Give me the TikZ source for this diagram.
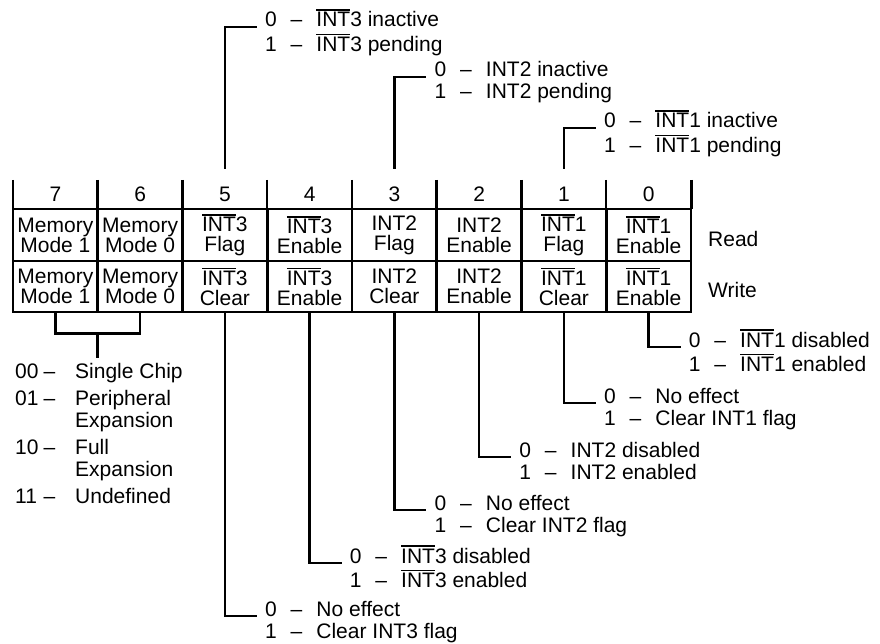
\documentclass[tikz,border=0pt]{standalone}
\usepackage{fontspec}
\setmainfont{Liberation Sans}
\usetikzlibrary{calc}
\newcommand{\barint}{\setbox0\hbox{INT}\rlap{\rule[\dimexpr\ht0+1.6pt\relax]{\wd0}{1.7pt}}INT}
\newcommand{\twoway}[2]{\begin{tabular}[t]{@{}l@{\hspace{14pt}}c@{\hspace{14pt}}l@{}}0&--&#1\\1&--&#2\end{tabular}}
\tikzset{
  wire/.style={line width=2.6pt},
  cell/.style={draw, line width=2.6pt, minimum width=84.75pt, inner sep=0pt, align=center, font=\fontsize{21}{20}\selectfont},
  note/.style={anchor=base west, inner sep=0pt}
}
\begin{document}
\begin{tikzpicture}[x=1pt, y=-1pt, font=\fontsize{21}{22}\selectfont]
\useasboundingbox (0,0) rectangle (880,644);
% bit numbers
\foreach \b in {7,...,0}
  \path (648.625-84.75*\b, 194.5) node[minimum width=84.75pt, minimum height=29pt, inner sep=0pt] (h\b) {\b};
\foreach \b in {7,...,0} \draw[wire] (h\b.north west) -- (h\b.south west);
\draw[wire] (h0.north east) -- (h0.south east);
% register cells, read and write
\foreach \b/\rd/\wr in {7/{Memory\\Mode 1}/{Memory\\Mode 1}, 6/{Memory\\Mode 0}/{Memory\\Mode 0},
    5/{\barint3\\Flag}/{\barint3\\Clear}, 4/{\barint3\\Enable}/{\barint3\\Enable},
    3/{INT2\\Flag}/{INT2\\Clear}, 2/{INT2\\Enable}/{INT2\\Enable},
    1/{\barint1\\Flag}/{\barint1\\Clear}, 0/{\barint1\\Enable}/{\barint1\\Enable}} {
  \node[cell, minimum height=52pt] (r\b) at (648.625-84.75*\b, 235) {\rd};
  \node[cell, minimum height=51pt] (w\b) at (648.625-84.75*\b, 286.5) {\wr};
}
\node[note] (rd) at (708,247) {Read};
\node[note] (wr) at (708,297) {Write};
% flags above
\foreach \b/\y/\za/\zb in {5/27/{\barint3 inactive}/{\barint3 pending},
    3/77/{INT2 inactive}/{INT2 pending}, 1/128/{\barint1 inactive}/{\barint1 pending}} {
  \node[note] (t\b) at ([xshift=40pt]h\b.north |- 0,\y) {\twoway{\za}{\zb}};
  \draw[wire] ([yshift=11pt]h\b.north) |- ([xshift=-8pt]t\b.base west);
}
% write bits below
\foreach \b/\y/\za/\zb in {0/347/{\barint1 disabled}/{\barint1 enabled},
    1/403/{No effect}/{Clear INT1 flag}, 2/457/{INT2 disabled}/{INT2 enabled},
    3/510/{No effect}/{Clear INT2 flag}, 4/563/{\barint3 disabled}/{\barint3 enabled},
    5/616/{No effect}/{Clear INT3 flag}} {
  \node[note] (b\b) at ([xshift=40pt]w\b.south |- 0,\y) {\twoway{\za}{\zb}};
  \draw[wire] (w\b.south) |- ([xshift=-8pt]b\b.base west);
}
% memory mode
\node[note] (mem) at (15,378) {\begin{tabular}[t]{@{}l@{\hspace{5pt}}c@{\hspace{20pt}}l@{}}
  00&--&Single Chip\\[5pt]
  01&--&Peripheral\\&&Expansion\\[5pt]
  10&--&Full\\&&Expansion\\[5pt]
  11&--&Undefined\end{tabular}};
\coordinate (mm) at ($(w7.south)!0.5!(w6.south)+(0,20)$);
\draw[wire] (w7.south) -- ++(0,20) -| (w6.south);
\draw[wire] (mm) -- ++(0,25);
\end{tikzpicture}
\end{document}
